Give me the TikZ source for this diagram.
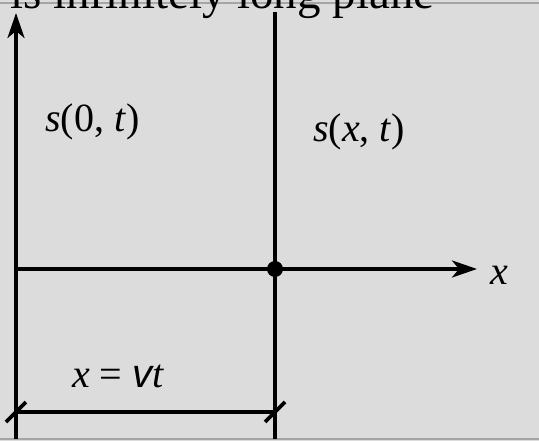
\documentclass[tikz,border=0pt]{standalone}
\usepackage{fontspec}
\setmainfont{Liberation Serif}
\newfontfamily\vfont{Liberation Sans}
\usepackage{tikz}
\usetikzlibrary{arrows.meta, positioning}
\definecolor{paper}{RGB}{220,220,220}
\definecolor{rule}{RGB}{165,165,165}
\tikzset{
  axis/.style={line width=3.6pt, -{Stealth[length=25pt,width=17pt,inset=7pt]}},
  wall/.style={line width=3.6pt},
  lbl/.style={inner sep=0pt, anchor=base west, font=\fontsize{40}{44}\selectfont},
}

\begin{document}
\begin{tikzpicture}[x=1pt,y=-1pt]
\fill[paper] (0,0) rectangle (539,441);
\useasboundingbox (0,0) rectangle (539,441);
\draw[rule, line width=1.5pt] (0,3) -- (539,3);
\draw[rule, line width=1.5pt] (0,439) -- (539,439);
\node[lbl, font=\fontsize{47}{50}\selectfont] (title) at (10,9) {is infinitely long plane};
% axes and the moving front
\coordinate (O) at (16,269);
\coordinate (Otop) at (16,13);
\coordinate (Obot) at (16,439);
\coordinate (P) at (275,269);
\coordinate (Ptop) at (275,12);
\coordinate (Pbot) at (275,439);
\coordinate (xend) at (477,269);
\draw[axis] (Obot) -- (Otop);
\draw[wall] (Pbot) -- (Ptop);
\draw[axis] (O) -- (xend);
\fill (P) circle[radius=8];
% distance x = vt
\coordinate (dA) at (16,412);
\coordinate (dB) at (275,412);
\draw[wall] (dA) -- (dB);
\draw[wall] ([shift={(-10,10)}]dA) -- ([shift={(10,-10)}]dA);
\draw[wall] ([shift={(-10,10)}]dB) -- ([shift={(10,-10)}]dB);
\node[lbl] (s0) at (45,132) {\textit{s}(0, \textit{t})};
\node[lbl] (sx) at (313,142) {\textit{s}(\textit{x}, \textit{t})};
\node[lbl] (xlab) at (490,284) {\textit{x}};
\node[lbl] (dist) at (72,388) {\textit{x} = {\vfont\itshape v}\textit{t}};
\end{tikzpicture}
\end{document}
